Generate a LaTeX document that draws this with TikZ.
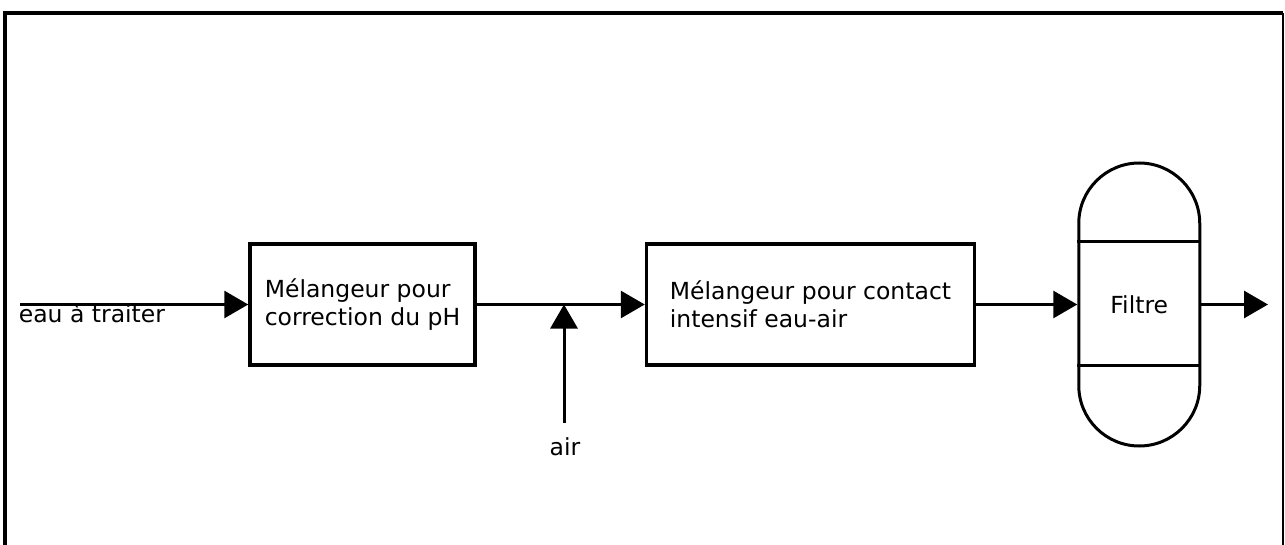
\documentclass[tikz,border=0pt]{standalone}
\usepackage{fontspec}
\setmainfont{DejaVu Sans}
\usetikzlibrary{positioning,arrows.meta}

\begin{document}
\begin{tikzpicture}[x=1pt, y=-1pt, line width=3pt,
  font=\fontsize{23.5}{28}\selectfont,
  box/.style = {draw, line width=3.5pt, minimum height=121pt, align=left},
  flow/.style = {-{Triangle[length=24pt,width=27pt]}}]

\useasboundingbox (0,0) rectangle (1285,545);
\draw[line width=3.5pt] (5,545) -- (5,13) -- (1283,13);
\draw[line width=2.5pt] (1283,13) -- (1283,545);

\node[box, minimum width=225pt] (1) at (362.5,304.5) {M\'elangeur pour\\correction du pH};
\node[box, minimum width=328pt] (2) [right=168pt of 1] {M\'elangeur pour contact\\intensif eau-air};
\node[draw, line width=3pt, rounded corners=60.5pt, minimum width=121pt, minimum height=283pt] (3) [right=101pt of 2] {Filtre};

\draw ([yshift=-80pt]3.north west) -- ([yshift=-80pt]3.north east);
\draw ([yshift=82pt]3.south west) -- ([yshift=82pt]3.south east);

\coordinate (in) at (20,304.5);
\coordinate (air) at (564,423);
\coordinate (out) at (1268,304.5);

\draw[flow] (in) -- (1);
\node[anchor=base west] (eau) at (14,323) {eau \`a traiter};
\draw[flow] (1) -- (2);
\draw[flow] (air) -- (air |- 1.east);
\node[anchor=base] (airtext) at (565,455) {air};
\draw[flow] (2) -- (3);
\draw[flow] (3) -- (out);

\end{tikzpicture}
\end{document}
